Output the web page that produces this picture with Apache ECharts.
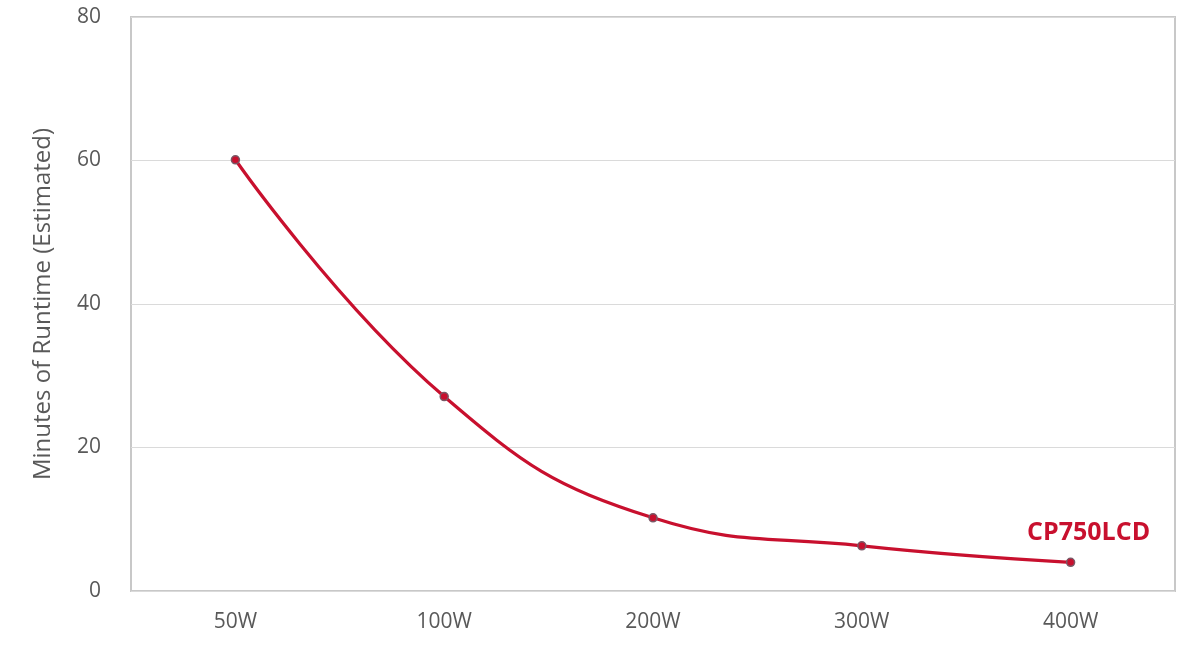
<!DOCTYPE html>
<html>
<head>
<meta charset="utf-8">
<script src="https://cdn.jsdelivr.net/npm/echarts@6/dist/echarts.min.js"></script>
<style>html,body{margin:0;padding:0;background:#fff;}#c{width:1190px;height:652px;}</style>
</head>
<body>
<div id="c"></div>
<script>
var categories = ['50W', '100W', '200W', '300W', '400W'];
var runtime = [60.1, 27.1, 10.2, 6.3, 4.0];
var seriesName = 'CP750LCD';
var yTicks = [0, 20, 40, 60, 80];

var chart = echarts.init(document.getElementById('c'));
var font = '"Open Sans", "Noto Sans", sans-serif';
chart.setOption({
  animation: false,
  grid: { left: 131, right: 15, top: 17, bottom: 61, show: true, borderColor: '#c8c8c8', borderWidth: 2, backgroundColor: 'transparent' },
  xAxis: {
    type: 'category', data: categories, boundaryGap: true,
    axisLine: { show: false }, axisTick: { show: false },
    axisLabel: { color: '#595959', fontSize: 21, fontFamily: font, margin: 21 },
    splitLine: { show: false }
  },
  yAxis: {
    type: 'value', min: yTicks[0], max: yTicks[yTicks.length - 1], interval: 20,
    name: 'Minutes of Runtime (Estimated)', nameLocation: 'middle', nameGap: 76, nameRotate: 90,
    nameTextStyle: { color: '#595959', fontSize: 24, fontFamily: font },
    axisLine: { show: false }, axisTick: { show: false },
    axisLabel: { color: '#595959', fontSize: 21, fontFamily: font, margin: 30, verticalAlign: 'middle', padding: [8, 0, 0, 0] },
    splitLine: { show: true, lineStyle: { color: '#dadada', width: 1 } }
  },
  series: [{
    name: seriesName, type: 'line', data: runtime.map(function (v, i) {
      if (i === runtime.length - 1) {
        return { value: v, label: { show: true, formatter: seriesName, position: 'top', offset: [18, -7], color: '#c8102e', fontSize: 25, fontWeight: 'bold', fontFamily: font } };
      }
      return v;
    }),
    smooth: 0.45,
    lineStyle: { color: '#c8102e', width: 3.2 },
    symbol: 'circle', symbolSize: 8,
    itemStyle: { color: '#c8102e', borderColor: '#7a5866', borderWidth: 1.5 },
    z: 3
  }]
});
</script>
</body>
</html>
